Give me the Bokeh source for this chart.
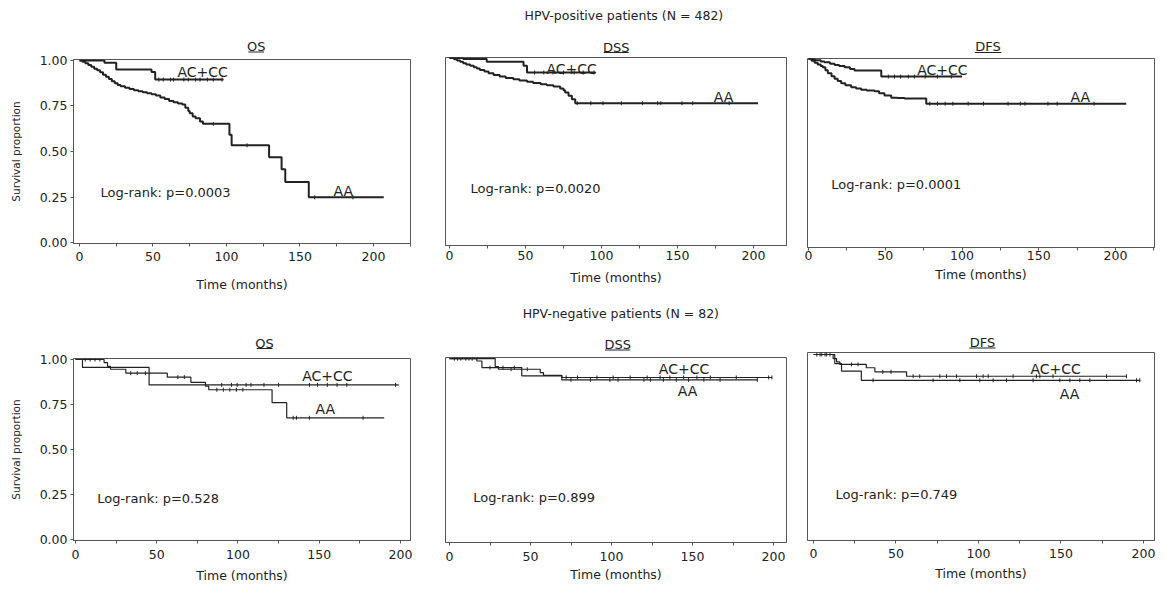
import math
from bokeh.plotting import figure
from bokeh.layouts import row, column
from bokeh.models import Range1d, FixedTicker, Label, PrintfTickFormatter
from bokeh.core.properties import value
from bokeh.embed import file_html
from bokeh.resources import INLINE

# ---------------- data ----------------
ROW_TITLES = ["HPV-positive patients (N = 482)", "HPV-negative patients (N = 82)"]
PANEL_TITLES = ["OS", "DSS", "DFS"]
GROUPS = ["AC+CC", "AA"]
LOGRANK = [["Log-rank: p=0.0003", "Log-rank: p=0.0020", "Log-rank: p=0.0001"],
           ["Log-rank: p=0.528", "Log-rank: p=0.899", "Log-rank: p=0.749"]]
X_TICKS = [0, 50, 100, 150, 200]
X_MINOR = [25, 75, 125, 175, 225]
Y_TICKS = [0.0, 0.25, 0.5, 0.75, 1.0]
X_LABEL = "Time (months)"
Y_LABEL = "Survival proportion"

# HPV-positive, OS
pos_os_ac_t = [0, 17, 25, 49, 51.5, 98]
pos_os_ac_s = [1.0, 0.987, 0.951, 0.937, 0.895, 0.895]
pos_os_ac_c = [54, 57, 62, 64, 71, 74, 79, 82, 87, 91, 97]
pos_os_aa_t = [0, 2, 4, 6, 8, 10, 12, 14, 16, 18, 20, 22, 24, 26, 28, 31, 34, 37, 40, 43, 46, 49,
               52, 55, 58, 61, 64, 67, 70, 72, 74, 75, 77, 79, 82, 84, 102, 103.5, 129, 137.5,
               140, 156, 207]
pos_os_aa_s = [1.0, .993, .985, .975, .965, .955, .946, .935, .922, .91, .898, .886, .875, .866,
               .858, .85, .843, .837, .831, .826, .82, .815, .807, .797, .789, .778, .77, .764,
               .758, .74, .722, .71, .692, .682, .665, .652, .592, .534, .469, .402, .333, .248,
               .248]
pos_os_aa_c = [91, 114, 160, 186]

# HPV-positive, DSS
pos_dss_ac_t = [0, 9, 24.5, 48.7, 51, 96]
pos_dss_ac_s = [1.0, .994, .98, .958, .922, .922]
pos_dss_ac_c = [56, 62, 68, 75, 82, 88, 95]
pos_dss_aa_t = [0, 3, 5, 7, 9, 11, 13.6, 16, 18, 20, 23, 25.7, 29, 33, 37, 42, 46, 51, 55, 60, 64,
                68.4, 72.8, 75, 76.1, 78.3, 80.5, 82.7, 203]
pos_dss_aa_s = [1.0, .993, .987, .98, .972, .965, .958, .95, .943, .936, .927, .918, .909, .9,
                .893, .886, .879, .872, .866, .859, .853, .847, .836, .826, .815, .797, .778,
                .757, .757]
pos_dss_aa_c = [84, 93, 101, 113, 127, 137, 139, 153, 160, 184]

# HPV-positive, DFS
pos_dfs_ac_t = [0, 4, 8, 10.4, 14, 17, 20, 23.5, 27, 30, 47.4, 100]
pos_dfs_ac_s = [1.0, .993, .987, .982, .975, .968, .962, .956, .947, .938, .906, .906]
pos_dfs_ac_c = [52, 56, 60, 65, 69, 76, 84, 93]
pos_dfs_aa_t = [0, 2, 4, 6, 8, 9.3, 11, 12.6, 15, 17, 19, 21.3, 24, 27.8, 31, 34.3, 38, 43, 46,
                49.5, 53.9, 58, 62.5, 76.7, 207]
pos_dfs_aa_s = [1.0, .99, .98, .97, .962, .956, .94, .924, .908, .894, .882, .871, .86, .849,
                .842, .835, .831, .828, .817, .805, .793, .791, .789, .761, .761]
pos_dfs_aa_c = [79, 84, 89, 94, 104, 114, 130, 138, 141, 156, 162, 186]

# HPV-negative, OS
neg_os_ac_t = [0, 4.3, 45.3, 199]
neg_os_ac_s = [1.0, .956, .859, .859]
neg_os_ac_c = [90, 96, 99.5, 105, 108, 116, 125, 144, 149, 155, 161, 167, 197]
neg_os_aa_t = [0, 17.6, 19.7, 21.5, 31, 56.5, 71, 80, 82, 121, 130, 190]
neg_os_aa_s = [1.0, .983, .962, .946, .924, .902, .873, .852, .832, .76, .676, .676]
neg_os_aa_c = [6, 9, 12, 15, 34, 38, 43, 63, 67, 87, 91, 95, 99, 103, 134, 136, 144, 177]

# HPV-negative, DSS
neg_dss_ac_t = [0, 28.2, 30.2, 56, 58, 69.3, 199]
neg_dss_ac_s = [1.0, .957, .942, .924, .909, .897, .897]
neg_dss_ac_c = [3, 7, 10, 14, 38, 48, 72, 79, 91, 101, 111.5, 122, 130, 136, 144.5, 152.7, 161,
                177, 197, 199]
neg_dss_aa_t = [0, 16.9, 20, 44.6, 69.3, 190]
neg_dss_aa_s = [1.0, .987, .951, .906, .884, .884]
neg_dss_aa_c = [5, 12, 25, 33, 40, 75, 87, 99, 104, 120, 124, 132, 140, 147.5, 157, 167, 190]

# HPV-negative, DFS
neg_dfs_ac_t = [0, 11.9, 14, 16, 32, 37.2, 56.4, 189.7]
neg_dfs_ac_s = [1.0, .978, .96, .946, .928, .906, .882, .882]
neg_dfs_ac_c = [2, 5, 8, 23, 27, 42, 47, 60.4, 64.4, 76.6, 80.6, 86.7, 98.8, 102.8, 105.9, 121,
                135.1, 137.2, 145.2, 177.6, 189.7]
neg_dfs_aa_t = [0, 12.9, 17, 29, 198]
neg_dfs_aa_s = [1.0, .951, .91, .86, .86]
neg_dfs_aa_c = [4, 7, 10, 36.1, 72.5, 88.7, 100.8, 108.9, 117, 133.1, 149.3, 155.4, 161.4,
                167.5, 195.8, 197.8]

# ---------------- style / layout ----------------
FONT = "DejaVu Sans"
INK = "#222222"
FRAME = "#555555"


def surv_at(ts, ss, c):
    v = ss[0]
    for t, s in zip(ts, ss):
        if t <= c:
            v = s
        else:
            break
    return v


def strip(left, top, width, height, title, tpos, row_title=None, rpos=None):
    """Heading band above one panel: underlined panel title (+ optional row title).
    Coordinates are page pixels."""
    p = figure(width=width, height=height, output_backend="svg", toolbar_location=None,
               x_range=Range1d(left, left + width), y_range=Range1d(top + height, top),
               x_axis_location=None, y_axis_location=None,
               min_border_left=0, min_border_right=0, min_border_top=0, min_border_bottom=0)
    p.xgrid.visible = False
    p.ygrid.visible = False
    p.outline_line_color = None
    p.background_fill_color = "white"
    p.border_fill_color = "white"
    if row_title:
        p.text(x=[rpos[0]], y=[rpos[1]], text=[row_title], text_align="center",
               text_baseline="middle", text_font=value(FONT), text_font_size="12.5px",
               text_color=INK)
    cx, cy, uy, uw = tpos
    p.text(x=[cx], y=[cy], text=[title], text_align="center", text_baseline="middle",
           text_font=value(FONT), text_font_size="13px", text_color=INK)
    p.segment(x0=[cx - uw / 2], x1=[cx + uw / 2], y0=[uy], y1=[uy],
              line_color=INK, line_width=1.2)
    return p


def panel(cfg):
    ox, oy, w, h = cfg["fig"]
    fl, fr, ft, fb = cfg["frame"]
    xr, yr = cfg["xr"], cfg["yr"]
    p = figure(width=w, height=h, output_backend="svg", toolbar_location=None,
               x_range=Range1d(*xr), y_range=Range1d(*yr),
               y_axis_location="left" if cfg["ylabels"] else None,
               min_border_left=fl - ox, min_border_right=ox + w - fr,
               min_border_top=ft - oy, min_border_bottom=oy + h - fb)
    p.xgrid.visible = False
    p.ygrid.visible = False
    p.background_fill_color = "white"
    p.border_fill_color = "white"
    p.outline_line_color = FRAME
    p.outline_line_width = 1
    p.outline_line_alpha = 1

    ppx = (fr - fl) / (xr[1] - xr[0])
    ppy = (fb - ft) / (yr[1] - yr[0])
    X = lambda px: xr[0] + (px - fl) / ppx
    Y = lambda py: yr[1] - (py - ft) / ppy

    xa = p.xaxis[0]
    xa.ticker = FixedTicker(ticks=X_TICKS, minor_ticks=X_MINOR)
    xa.axis_line_color = FRAME
    xa.major_tick_line_color = FRAME
    xa.minor_tick_line_color = FRAME
    xa.major_tick_out = 3
    xa.major_tick_in = 0
    xa.minor_tick_out = 3
    xa.minor_tick_in = 0
    xa.major_label_standoff = cfg["tick_std"]
    xa.major_label_text_font = FONT
    xa.major_label_text_font_size = "12.5px"
    xa.major_label_text_color = INK
    xa.axis_label = X_LABEL
    xa.axis_label_text_font = FONT
    xa.axis_label_text_font_size = "12.5px"
    xa.axis_label_text_font_style = "normal"
    xa.axis_label_text_color = INK
    xa.axis_label_standoff = cfg["xl_std"]

    if cfg["ylabels"]:
        ya = p.yaxis[0]
        ya.ticker = FixedTicker(ticks=Y_TICKS, minor_ticks=[])
        ya.formatter = PrintfTickFormatter(format="%.2f")
        ya.axis_line_color = FRAME
        ya.major_tick_line_color = FRAME
        ya.major_tick_out = 3
        ya.major_tick_in = 0
        ya.minor_tick_line_color = None
        ya.major_label_standoff = 3
        ya.major_label_text_font = FONT
        ya.major_label_text_font_size = "12.5px"
        ya.major_label_text_color = INK
        ya.axis_label = Y_LABEL
        ya.axis_label_text_font = FONT
        ya.axis_label_text_font_size = "10.5px"
        ya.axis_label_text_font_style = "normal"
        ya.axis_label_text_color = INK
        ya.axis_label_standoff = 15

    for t, s, c in cfg["curves"]:
        p.step(x=t, y=s, mode="after", line_color=INK, line_width=cfg["lw"])
        cy = [surv_at(t, s, v) for v in c]
        p.scatter(x=c, y=cy, marker="dash", angle=math.pi / 2, size=4,
                  line_color=INK, line_width=1)

    for txt, (px, py), size in cfg["texts"]:
        p.add_layout(Label(x=X(px), y=Y(py), text=txt, text_align="left",
                           text_baseline="middle", text_font=FONT,
                           text_font_size=size, text_color=INK))
    return p


cfgs = [
    dict(fig=(0, 53, 428, 241), frame=(73, 410, 59, 245), xr=(-4.08, 225.2), yr=(-0.0054, 1.0054),
         tick_std=5, xl_std=13, ylabels=True, lw=2.0,
         curves=[(pos_os_ac_t, pos_os_ac_s, pos_os_ac_c), (pos_os_aa_t, pos_os_aa_s, pos_os_aa_c)],
         texts=[(GROUPS[0], (177, 72), "14px"), (GROUPS[1], (333, 191.7), "14px"),
                (LOGRANK[0][0], (100, 193.3), "13px")]),
    dict(fig=(428, 57, 367, 237), frame=(445, 786, 57, 245), xr=(-2.63, 221.7), yr=(-0.0081, 1.0027),
         tick_std=2, xl_std=7, ylabels=False, lw=2.0,
         curves=[(pos_dss_ac_t, pos_dss_ac_s, pos_dss_ac_c), (pos_dss_aa_t, pos_dss_aa_s, pos_dss_aa_c)],
         texts=[(GROUPS[0], (546, 68.3), "14px"), (GROUPS[1], (713.3, 96), "14px"),
                (LOGRANK[0][1], (470, 188.3), "13px")]),
    dict(fig=(795, 57, 367, 237), frame=(807, 1154, 58, 247), xr=(-0.65, 225.4), yr=(-0.008, 1.0027),
         tick_std=0, xl_std=4, ylabels=False, lw=2.0,
         curves=[(pos_dfs_ac_t, pos_dfs_ac_s, pos_dfs_ac_c), (pos_dfs_aa_t, pos_dfs_aa_s, pos_dfs_aa_c)],
         texts=[(GROUPS[0], (916.7, 69.3), "14px"), (GROUPS[1], (1070, 96), "14px"),
                (LOGRANK[0][2], (830.7, 184), "13px")]),
    dict(fig=(0, 350, 428, 238), frame=(73, 410, 358, 540), xr=(-1.23, 206.2), yr=(-0.0056, 1.0056),
         tick_std=6, xl_std=6, ylabels=True, lw=1.2,
         curves=[(neg_os_ac_t, neg_os_ac_s, neg_os_ac_c), (neg_os_aa_t, neg_os_aa_s, neg_os_aa_c)],
         texts=[(GROUPS[0], (301.7, 375), "14px"), (GROUPS[1], (315, 408.3), "14px"),
                (LOGRANK[1][0], (96.7, 498.3), "13px")]),
    dict(fig=(428, 352, 367, 236), frame=(445, 786, 357, 542), xr=(-2.47, 208.0), yr=(-0.003, 1.006),
         tick_std=6, xl_std=3, ylabels=False, lw=1.2,
         curves=[(neg_dss_ac_t, neg_dss_ac_s, neg_dss_ac_c), (neg_dss_aa_t, neg_dss_aa_s, neg_dss_aa_c)],
         texts=[(GROUPS[0], (658.3, 368.3), "14px"), (GROUPS[1], (677.3, 390), "14px"),
                (LOGRANK[1][1], (472.7, 496.7), "13px")]),
    dict(fig=(795, 352, 367, 236), frame=(807, 1154, 352, 540), xr=(-3.64, 206.7), yr=(-0.011, 1.011),
         tick_std=5, xl_std=5, ylabels=False, lw=1.2,
         curves=[(neg_dfs_ac_t, neg_dfs_ac_s, neg_dfs_ac_c), (neg_dfs_aa_t, neg_dfs_aa_s, neg_dfs_aa_c)],
         texts=[(GROUPS[0], (1030, 368.3), "14px"), (GROUPS[1], (1059.3, 393.3), "14px"),
                (LOGRANK[1][2], (835, 494), "13px")]),
]

plots = [panel(c) for c in cfgs]

# heading bands (page pixels): title centre x, centre y, underline y, underline width
h1a = strip(0, 0, 428, 53, PANEL_TITLES[0], (232, 45.5, 51.5, 20))
h1b = strip(428, 0, 367, 57, PANEL_TITLES[1], (611.7, 46.5, 52, 27),
            ROW_TITLES[0], (620, 15))
h1c = strip(795, 0, 367, 57, PANEL_TITLES[2], (986, 46, 52, 28))
h2a = strip(0, 294, 428, 56, PANEL_TITLES[0], (242.7, 342.5, 348, 20))
h2b = strip(428, 294, 367, 58, PANEL_TITLES[1], (613.3, 344, 349.5, 27),
            ROW_TITLES[1], (616.7, 312.7))
h2c = strip(795, 294, 367, 58, PANEL_TITLES[2], (980, 341.5, 347.5, 28))

layout = row(column(h1a, plots[0], h2a, plots[3], spacing=0),
             column(h1b, plots[1], h2b, plots[4], spacing=0),
             column(h1c, plots[2], h2c, plots[5], spacing=0), spacing=0)

open("out.html", "w").write(file_html(layout, INLINE))
